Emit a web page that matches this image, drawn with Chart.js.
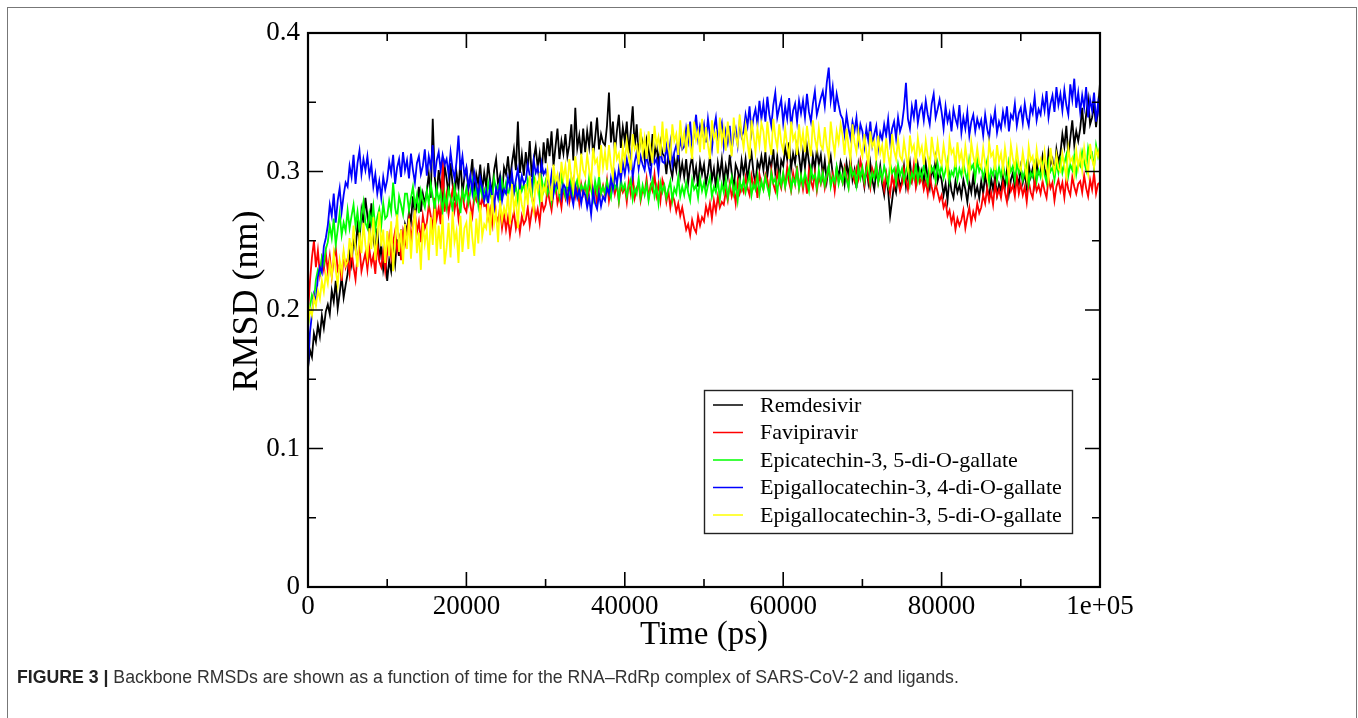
<!DOCTYPE html>
<html>
<head>
<meta charset="utf-8">
<script src="https://cdn.jsdelivr.net/npm/chart.js@4.4.1/dist/chart.umd.min.js"></script>
<style>
  html, body { margin: 0; padding: 0; background: #fff; }
  #page { position: relative; width: 1358px; height: 718px; overflow: hidden; }
  #frame { position: absolute; left: 7px; top: 7px; width: 1348px; height: 760px; border: 1px solid #777; }
  #plot { position: absolute; left: 0; top: 0; }
  #caption { position: absolute; left: 17px; top: 667px; font: 17.7px "Liberation Sans", Arial, sans-serif; color: #333; white-space: nowrap; }
  #caption b { color: #222; }
</style>
</head>
<body>
<div id="page">
  <div id="frame"></div>
  <canvas id="plot" width="1358" height="718"></canvas>
  <div id="caption"><b>FIGURE 3 |</b> Backbone RMSDs are shown as a function of time for the RNA–RdRp complex of SARS-CoV-2 and ligands.</div>
</div>
<script>
// frames every 250 ps, 0 .. 100000 ps (401 frames)
const TIME_STEP = 250;
const timePs = Array.from({ length: 401 }, (_, i) => i * TIME_STEP);

const seriesLabels = [
  'Remdesivir',
  'Favipiravir',
  'Epicatechin-3, 5-di-O-gallate',
  'Epigallocatechin-3, 4-di-O-gallate',
  'Epigallocatechin-3, 5-di-O-gallate',
];
const seriesColors = ['#000000', '#ff0000', '#00ff00', '#0000ff', '#ffff00'];

// backbone RMSD in pm, one row = 2500 ps; plotted in nm
const remdesivir = [
  158, 171, 166, 183, 177, 189, 181, 196, 187, 199,
  204, 197, 214, 206, 221, 201, 212, 224, 209, 218,
  226, 241, 233, 252, 244, 261, 249, 272, 263, 281,
  268, 254, 277, 251, 243, 259, 236, 247, 229, 238,
  221, 236, 228, 244, 233, 251, 239, 258, 246, 262,
  257, 271, 264, 282, 268, 276, 289, 271, 284, 277,
  286, 298, 281, 338, 296, 283, 301, 289, 277, 304,
  295, 283, 306, 291, 279, 299, 288, 308, 284, 296,
  302, 287, 296, 309, 283, 298, 291, 305, 286, 299,
  289, 306, 293, 284, 301, 309, 290, 297, 282, 303,
  298, 311, 294, 306, 316, 301, 336, 299, 312, 297,
  314, 301, 322, 296, 309, 318, 303, 313, 298, 321,
  306, 324, 311, 329, 304, 318, 331, 309, 322, 313,
  327, 311, 319, 334, 308, 346, 317, 326, 312, 331,
  314, 329, 318, 336, 311, 324, 339, 316, 327, 321,
  319, 333, 357, 321, 336, 314, 329, 341, 317, 332,
  322, 336, 313, 329, 347, 318, 334, 311, 327, 321,
  309, 323, 316, 304, 327, 311, 319, 306, 321, 313,
  311, 298, 314, 303, 296, 309, 301, 316, 297, 306,
  296, 309, 292, 304, 311, 295, 303, 289, 307, 298,
  305, 291, 299, 311, 294, 302, 288, 306, 297, 309,
  292, 304, 296, 312, 299, 287, 305, 301, 293, 308,
  298, 309, 294, 306, 313, 299, 291, 307, 302, 311,
  301, 314, 297, 309, 303, 316, 299, 311, 294, 308,
  304, 317, 309, 321, 302, 313, 306, 319, 311, 299,
  314, 303, 318, 307, 296, 311, 302, 316, 305, 312,
  297, 308, 293, 304, 311, 298, 289, 303, 296, 307,
  302, 291, 306, 297, 309, 294, 301, 288, 305, 296,
  299, 289, 303, 292, 306, 294, 287, 300, 293, 304,
  291, 283, 297, 286, 268, 279, 291, 285, 298, 289,
  293, 304, 289, 299, 307, 294, 301, 291, 305, 296,
  301, 292, 306, 295, 288, 302, 297, 309, 293, 299,
  294, 283, 291, 279, 296, 286, 281, 293, 285, 290,
  282, 294, 287, 278, 292, 285, 297, 283, 289, 281,
  293, 284, 298, 288, 281, 295, 287, 296, 283, 291,
  286, 297, 289, 301, 284, 294, 299, 288, 296, 291,
  303, 292, 299, 288, 305, 296, 302, 291, 307, 298,
  299, 311, 302, 296, 314, 305, 309, 298, 316, 307,
  313, 327, 318, 333, 311, 324, 337, 319, 329, 322,
  331, 346, 327, 341, 352, 334, 339, 348, 332, 345,
  364,
];
const favipiravir = [
  198, 221, 238, 250, 231, 243, 226, 237, 229, 241,
  228, 239, 224, 236, 245, 229, 233, 221, 240, 231,
  237, 226, 243, 231, 222, 239, 246, 228, 235, 241,
  229, 244, 233, 239, 226, 248, 235, 231, 242, 228,
  241, 253, 238, 249, 257, 243, 251, 236, 256, 247,
  254, 266, 251, 262, 271, 256, 264, 249, 268, 259,
  263, 276, 268, 259, 281, 266, 274, 262, 310, 271,
  283, 269, 279, 287, 272, 281, 266, 278, 285, 274,
  271, 284, 276, 268, 283, 279, 287, 272, 281, 275,
  276, 266, 273, 262, 279, 268, 264, 274, 259, 269,
  258, 267, 254, 264, 271, 259, 266, 256, 268, 262,
  265, 274, 261, 271, 278, 266, 273, 263, 279, 272,
  276, 287, 279, 272, 285, 291, 277, 283, 274, 288,
  281, 292, 278, 286, 294, 282, 289, 277, 291, 284,
  291, 279, 287, 295, 281, 289, 276, 293, 284, 290,
  283, 294, 279, 288, 296, 284, 291, 278, 289, 285,
  289, 278, 293, 284, 297, 281, 288, 292, 279, 287,
  284, 295, 281, 290, 286, 298, 283, 291, 279, 294,
  289, 278, 286, 274, 283, 279, 271, 277, 268, 274,
  266, 258, 262, 254, 265, 259, 256, 268, 261, 267,
  264, 275, 269, 277, 266, 279, 271, 282, 274, 278,
  276, 286, 279, 291, 282, 288, 277, 293, 284, 289,
  285, 296, 288, 283, 297, 289, 294, 281, 298, 291,
  287, 298, 294, 284, 301, 291, 286, 299, 293, 288,
  298, 289, 303, 292, 286, 299, 291, 304, 288, 296,
  287, 297, 284, 301, 293, 288, 299, 286, 296, 291,
  299, 288, 296, 304, 291, 298, 286, 301, 293, 297,
  292, 303, 296, 289, 306, 298, 293, 302, 295, 308,
  301, 291, 304, 295, 288, 302, 297, 306, 292, 299,
  296, 287, 299, 291, 284, 297, 289, 301, 293, 286,
  291, 302, 294, 287, 299, 293, 305, 289, 298, 292,
  296, 287, 293, 284, 297, 289, 282, 291, 285, 279,
  283, 274, 278, 268, 272, 263, 269, 258, 266, 261,
  265, 272, 259, 267, 274, 263, 271, 266, 277, 270,
  274, 283, 277, 288, 279, 285, 276, 291, 282, 287,
  281, 292, 285, 278, 294, 286, 290, 282, 296, 284,
  291, 283, 289, 278, 293, 285, 281, 294, 286, 290,
  284, 293, 286, 281, 295, 288, 292, 279, 289, 294,
  286, 292, 281, 295, 287, 283, 296, 289, 284, 291,
  293, 285, 297, 288, 282, 294, 287, 299, 284, 291,
  292,
];
const epicatechin35 = [
  188, 202, 211, 207, 222, 229, 226, 238, 233, 244,
  249, 261, 252, 266, 247, 258, 270, 254, 263, 257,
  272, 259, 268, 276, 261, 271, 257, 269, 278, 263,
  259, 270, 263, 275, 258, 267, 273, 261, 277, 266,
  268, 279, 271, 292, 274, 266, 282, 276, 269, 284,
  284, 272, 281, 289, 275, 283, 270, 286, 279, 274,
  286, 277, 291, 282, 273, 288, 279, 285, 271, 284,
  274, 287, 281, 272, 289, 278, 284, 270, 286, 280,
  288, 277, 285, 293, 280, 289, 276, 291, 282, 287,
  281, 292, 284, 279, 295, 287, 290, 278, 293, 285,
  292, 282, 290, 296, 284, 289, 279, 294, 286, 291,
  283, 294, 287, 281, 297, 289, 292, 280, 295, 286,
  293, 284, 290, 279, 296, 286, 291, 282, 297, 288,
  282, 291, 285, 295, 281, 289, 294, 283, 290, 286,
  291, 283, 296, 287, 280, 293, 285, 297, 284, 289,
  284, 293, 286, 281, 295, 288, 291, 279, 294, 287,
  291, 282, 289, 294, 280, 288, 284, 295, 281, 290,
  283, 291, 279, 288, 294, 282, 289, 277, 292, 285,
  290, 281, 287, 293, 279, 288, 284, 296, 282, 289,
  283, 292, 285, 279, 294, 287, 290, 281, 295, 286,
  292, 283, 290, 296, 282, 289, 285, 294, 280, 291,
  285, 294, 281, 289, 296, 284, 291, 279, 293, 287,
  294, 285, 292, 298, 283, 291, 287, 297, 284, 293,
  287, 296, 289, 283, 299, 292, 295, 284, 298, 290,
  299, 289, 296, 302, 287, 295, 291, 301, 288, 297,
  290, 299, 293, 286, 302, 295, 298, 288, 301, 292,
  299, 290, 297, 304, 289, 296, 292, 303, 291, 298,
  292, 301, 294, 288, 304, 297, 300, 290, 303, 295,
  303, 293, 300, 307, 291, 299, 295, 305, 292, 301,
  294, 304, 297, 290, 306, 299, 302, 292, 305, 297,
  302, 293, 300, 306, 291, 299, 295, 305, 293, 301,
  295, 304, 297, 291, 307, 300, 303, 293, 306, 298,
  304, 295, 301, 308, 293, 300, 297, 307, 294, 302,
  297, 306, 299, 293, 309, 302, 305, 295, 308, 300,
  304, 295, 302, 308, 292, 301, 297, 306, 294, 303,
  296, 305, 298, 292, 307, 300, 304, 294, 306, 299,
  303, 294, 300, 306, 291, 299, 296, 305, 293, 301,
  296, 305, 298, 292, 307, 300, 303, 294, 306, 299,
  308, 299, 306, 312, 297, 305, 301, 311, 298, 307,
  304, 314, 307, 301, 317, 310, 313, 303, 319, 311,
  318,
];
const epigallocatechin34 = [
  158, 184, 197, 211, 206, 224, 231, 227, 246, 252,
  261, 276, 268, 284, 263, 279, 288, 271, 283, 292,
  289, 304, 296, 312, 291, 306, 315, 298, 309, 301,
  311, 297, 305, 289, 298, 284, 293, 281, 296, 287,
  294, 307, 299, 312, 291, 303, 309, 296, 314, 301,
  308, 295, 313, 301, 292, 306, 311, 298, 304, 316,
  297, 311, 303, 319, 296, 308, 314, 301, 312, 305,
  309, 298, 314, 302, 295, 307, 326, 301, 311, 297,
  303, 289, 297, 285, 299, 291, 282, 295, 288, 279,
  286, 277, 291, 282, 274, 288, 281, 293, 279, 287,
  284, 296, 289, 299, 285, 294, 302, 288, 297, 291,
  294, 305, 297, 289, 308, 299, 303, 292, 306, 298,
  301, 294, 287, 298, 284, 293, 289, 296, 282, 291,
  288, 279, 291, 283, 276, 289, 281, 287, 277, 286,
  283, 274, 281, 269, 286, 277, 273, 284, 275, 282,
  279, 288, 284, 295, 287, 299, 291, 302, 294, 306,
  298, 309, 301, 312, 296, 307, 314, 302, 311, 305,
  301, 312, 304, 297, 314, 306, 309, 299, 316, 307,
  306, 318, 309, 321, 305, 314, 319, 311, 323, 316,
  318, 331, 322, 336, 317, 328, 341, 324, 333, 327,
  334, 321, 338, 326, 316, 331, 339, 323, 329, 335,
  318, 329, 321, 333, 315, 326, 331, 319, 336, 325,
  329, 341, 333, 347, 328, 339, 345, 334, 351, 338,
  349, 336, 354, 341, 333, 348, 357, 339, 346, 352,
  335, 347, 338, 353, 332, 344, 349, 336, 351, 342,
  351, 339, 356, 343, 336, 349, 358, 341, 347, 353,
  358, 347, 364, 375, 351, 361, 343, 356, 348, 341,
  338, 327, 341, 331, 324, 336, 329, 339, 322, 334,
  329, 318, 331, 322, 336, 319, 327, 333, 317, 328,
  323, 334, 326, 338, 321, 331, 336, 324, 339, 329,
  334, 346, 364, 338, 331, 347, 339, 352, 335, 344,
  348, 337, 351, 341, 334, 349, 356, 339, 345, 352,
  343, 331, 347, 336, 342, 329, 345, 338, 333, 348,
  328, 339, 331, 343, 326, 336, 341, 329, 338, 332,
  337, 326, 341, 331, 324, 339, 334, 344, 328, 336,
  331, 343, 335, 347, 329, 341, 338, 349, 333, 342,
  346, 335, 349, 339, 333, 347, 342, 354, 337, 345,
  341, 353, 344, 358, 339, 349, 355, 343, 361, 348,
  356, 344, 359, 348, 341, 363, 352, 367, 346, 357,
  343, 355, 346, 361, 339, 352, 344, 357, 336, 349,
  338,
];
const epigallocatechin35 = [
  188, 201, 196, 209, 203, 214, 208, 221, 213, 226,
  219, 234, 224, 241, 229, 218, 236, 227, 243, 232,
  235, 252, 238, 261, 244, 231, 256, 241, 263, 247,
  238, 259, 244, 267, 236, 253, 271, 246, 258, 234,
  257, 239, 264, 228, 251, 269, 242, 258, 233, 262,
  244, 266, 237, 259, 272, 241, 256, 229, 263, 248,
  258, 236, 267, 247, 273, 239, 261, 244, 269, 233,
  245, 263, 238, 271, 249, 257, 234, 268, 242, 259,
  263, 244, 271, 252, 239, 266, 248, 276, 253, 262,
  259, 277, 254, 283, 262, 271, 249, 279, 265, 274,
  268, 284, 262, 291, 273, 281, 259, 287, 276, 269,
  291, 276, 297, 281, 272, 293, 286, 299, 278, 289,
  285, 301, 289, 279, 305, 293, 298, 284, 307, 295,
  304, 289, 309, 296, 287, 311, 299, 292, 313, 301,
  297, 312, 301, 292, 317, 306, 309, 296, 319, 303,
  314, 301, 319, 305, 296, 321, 309, 313, 299, 318,
  307, 322, 311, 301, 327, 316, 319, 305, 331, 313,
  324, 309, 329, 316, 306, 333, 319, 325, 311, 336,
  314, 331, 318, 308, 334, 322, 327, 312, 337, 319,
  328, 313, 334, 319, 309, 336, 323, 329, 314, 338,
  316, 332, 319, 309, 337, 324, 328, 313, 339, 321,
  331, 315, 336, 322, 311, 339, 325, 319, 341, 327,
  317, 333, 321, 309, 337, 326, 314, 331, 319, 335,
  329, 314, 336, 322, 312, 338, 325, 317, 334, 321,
  315, 331, 319, 309, 336, 323, 327, 312, 334, 318,
  328, 314, 333, 321, 311, 337, 324, 316, 331, 319,
  316, 332, 319, 310, 336, 323, 313, 329, 321, 334,
  326, 312, 331, 318, 309, 334, 321, 314, 329, 317,
  311, 327, 314, 305, 329, 318, 322, 308, 326, 313,
  319, 306, 324, 312, 303, 327, 315, 309, 323, 311,
  308, 322, 312, 302, 326, 315, 319, 306, 324, 313,
  318, 305, 322, 311, 302, 325, 314, 308, 321, 309,
  305, 319, 309, 299, 323, 313, 316, 303, 321, 308,
  314, 302, 318, 307, 298, 321, 311, 305, 317, 306,
  303, 317, 306, 297, 321, 311, 314, 301, 319, 307,
  313, 301, 317, 306, 296, 319, 309, 303, 316, 304,
  301, 314, 304, 295, 318, 308, 311, 299, 316, 305,
  309, 298, 314, 303, 294, 317, 306, 300, 312, 302,
  300, 313, 304, 296, 317, 307, 310, 298, 315, 303,
  313, 301, 317, 306, 298, 320, 309, 303, 316, 311,
  318,
];
const seriesValues = [remdesivir, favipiravir, epicatechin35, epigallocatechin34, epigallocatechin35];

const xMajorTicks = [0, 20000, 40000, 60000, 80000, 100000];
const xMinorTicks = [10000, 30000, 50000, 70000, 90000];
const yMajorTicks = [0, 0.1, 0.2, 0.3, 0.4];
const yMinorTicks = [0.05, 0.15, 0.25, 0.35];

const SERIF = '"Liberation Serif", "Times New Roman", serif';

// grace-style frame: box round the plot, inward ticks on all four sides, axis titles, boxed legend
const gracePlugin = {
  id: 'grace',
  afterDatasetsDraw(chart) {
    const { ctx, chartArea: a, scales: { x, y } } = chart;
    ctx.save();
    ctx.strokeStyle = '#000';
    ctx.lineWidth = 1.6;
    ctx.beginPath();
    const tick = (px, len, vertical) => {
      if (vertical) {
        ctx.moveTo(px, a.bottom); ctx.lineTo(px, a.bottom - len);
        ctx.moveTo(px, a.top); ctx.lineTo(px, a.top + len);
      } else {
        ctx.moveTo(a.left, px); ctx.lineTo(a.left + len, px);
        ctx.moveTo(a.right, px); ctx.lineTo(a.right - len, px);
      }
    };
    xMajorTicks.forEach(v => tick(x.getPixelForValue(v), 15, true));
    xMinorTicks.forEach(v => tick(x.getPixelForValue(v), 8, true));
    yMajorTicks.forEach(v => tick(y.getPixelForValue(v), 15, false));
    yMinorTicks.forEach(v => tick(y.getPixelForValue(v), 8, false));
    ctx.stroke();
    ctx.lineWidth = 2.2;
    ctx.strokeRect(a.left, a.top, a.right - a.left, a.bottom - a.top);

    // axis titles
    ctx.fillStyle = '#000';
    ctx.textAlign = 'center';
    ctx.textBaseline = 'middle';
    ctx.font = '33px ' + SERIF;
    ctx.fillText('Time (ps)', (a.left + a.right) / 2, 635);
    ctx.save();
    ctx.translate(248, 301);
    ctx.rotate(-Math.PI / 2);
    ctx.font = '36px ' + SERIF;
    ctx.fillText('RMSD (nm)', 0, 0);
    ctx.restore();

    // legend box
    const lx = 704, ly = 390, lw = 368, lh = 143;
    ctx.fillStyle = '#fff';
    ctx.fillRect(lx, ly, lw, lh);
    ctx.lineWidth = 1.4;
    ctx.strokeStyle = '#222';
    ctx.strokeRect(lx + 0.5, ly + 0.5, lw, lh);
    ctx.font = '22px ' + SERIF;
    ctx.textAlign = 'left';
    chart.data.datasets.forEach((ds, i) => {
      const rowY = 405 + i * 27.5;
      ctx.strokeStyle = ds.borderColor;
      ctx.lineWidth = 1.5;
      ctx.beginPath();
      ctx.moveTo(713, rowY); ctx.lineTo(743, rowY);
      ctx.stroke();
      ctx.fillStyle = '#000';
      ctx.fillText(ds.label, 760, rowY + 1);
    });
    ctx.restore();
  },
};

const datasets = seriesLabels.map((label, i) => ({
  label,
  data: timePs.map((t, k) => ({ x: t, y: seriesValues[i][k] / 1000 })), // pm -> nm
  borderColor: seriesColors[i],
  borderWidth: 1.8,
  pointRadius: 0,
  tension: 0,
  order: seriesLabels.length - i, // later sets on top, like xmgrace
}));

new Chart(document.getElementById('plot'), {
  type: 'line',
  data: { datasets },
  options: {
    animation: false,
    responsive: false,
    devicePixelRatio: 1,
    layout: { padding: { left: 0, top: 33, right: 258, bottom: 0 } },
    scales: {
      x: {
        type: 'linear', min: 0, max: 100000,
        grid: { display: false, drawTicks: false },
        border: { display: false },
        afterFit: (s) => { s.height = 131; },
        ticks: {
          stepSize: 20000, padding: 4, color: '#000', maxRotation: 0,
          font: { family: SERIF, size: 27 },
          callback: (v) => (v === 100000 ? '1e+05' : String(v)),
        },
      },
      y: {
        min: 0, max: 0.4,
        grid: { display: false, drawTicks: false },
        border: { display: false },
        afterFit: (s) => { s.width = 308; },
        ticks: {
          stepSize: 0.1, padding: 8, color: '#000',
          font: { family: SERIF, size: 27 },
          callback: (v) => (v === 0 ? '0' : v.toFixed(1)),
        },
      },
    },
    plugins: { legend: { display: false }, tooltip: { enabled: false } },
  },
  plugins: [gracePlugin],
});
</script>
</body>
</html>
